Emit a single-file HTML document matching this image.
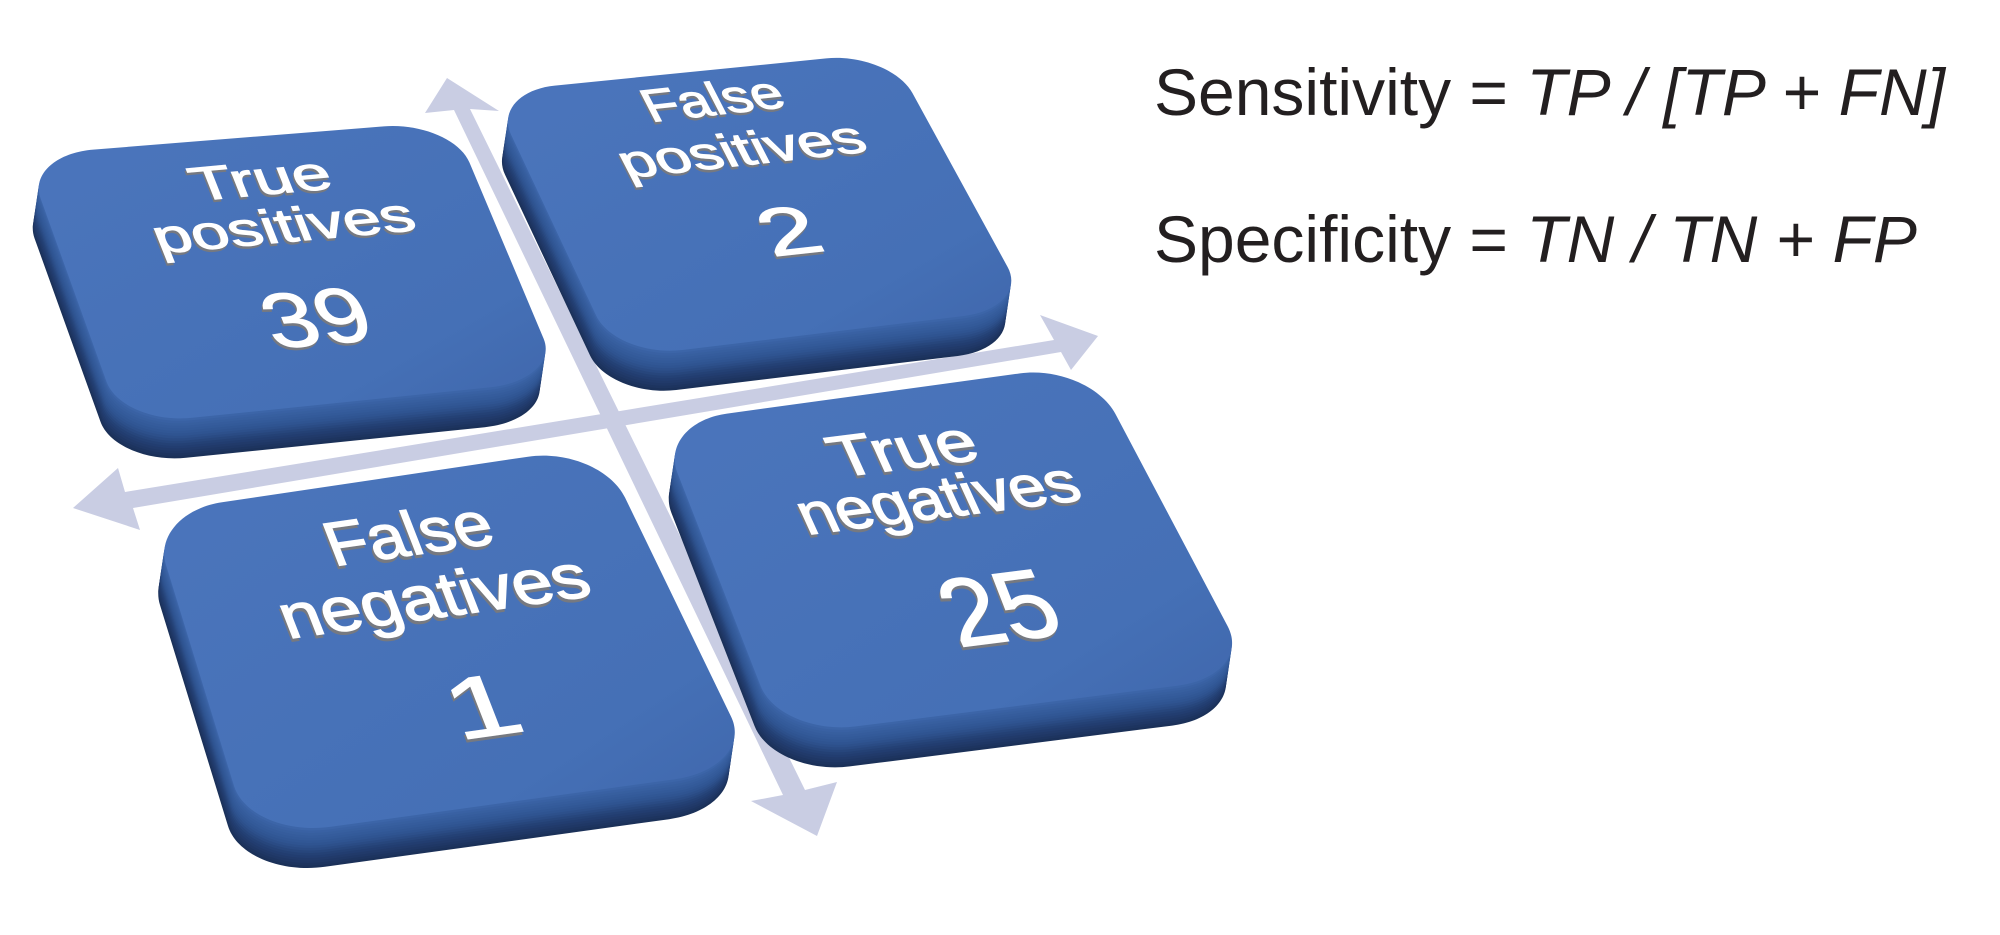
<!DOCTYPE html>
<html>
<head>
<meta charset="utf-8">
<style>
  html,body{margin:0;padding:0;background:#ffffff;}
  body{width:2000px;height:935px;overflow:hidden;position:relative;}
  svg{position:absolute;left:0;top:0;}
  .lbl{font-family:"Liberation Sans",Arial,sans-serif;text-anchor:middle;}
</style>
</head>
<body>
<svg width="2000" height="935" viewBox="0 0 2000 935" xmlns="http://www.w3.org/2000/svg">
  <defs>
    <g id="tiles">
      <path d="M93.3,149.6 L383.7,126.4 C421.4,123.4 459.8,139.6 469.4,162.4 L543.6,338.6 C553.2,361.4 529.5,383.2 490.8,387.2 L192.2,417.8 C153.5,421.8 115,405.6 106.5,381.8 L40.5,198.2 C32,174.4 55.6,152.6 93.3,149.6 Z"/>
      <path d="M554.8,85.6 L826.2,58.4 C861.4,54.9 900,70.4 912.4,93 L1007.6,267 C1020,289.6 1000.3,311.6 963.8,316 L682.2,350 C645.7,354.4 607,338.9 596,315.4 L511,134.6 C500,111.1 519.6,89.1 554.8,85.6 Z"/>
      <path d="M222,502.3 L528,456.7 C567.7,450.8 611.2,469.1 625,497.5 L731,716.5 C744.8,744.9 719.7,773 675,779.2 L331,826.8 C286.3,833 242.8,814.7 234,786 L166,565 C157.2,536.3 182.3,508.2 222,502.3 Z"/>
      <path d="M727,413.6 L1020,373.4 C1058.1,368.2 1100.8,386.4 1115.4,413.9 L1227.6,626.1 C1242.2,653.6 1220,680.3 1178.2,685.6 L855.8,726.4 C814,731.7 771.3,713.6 760.5,685.9 L677.5,473.1 C666.7,445.4 688.9,418.8 727,413.6 Z"/>
    </g>
    <linearGradient id="face" x1="0" y1="0" x2="1" y2="1">
      <stop offset="0" stop-color="#4b75bc"/>
      <stop offset="0.75" stop-color="#4570b6"/>
      <stop offset="1" stop-color="#3f66ab"/>
    </linearGradient>
  </defs>

  <!-- arrows (base plane) -->
  <g fill="#c9cde3">
    <polygon points="73,508 118,468 125,492 1054,340 1040,315 1098,336 1071,370 1061,352 133,508 140,530"/>
    <polygon points="447,78 499,111 470,109 805,790 837,782 817,836 751,801 783,795 454,110 425,113"/>
  </g>

  <!-- extrusion layers -->
  <use href="#tiles" transform="translate(-6 40)" fill="#1b3159"/>
  <use href="#tiles" transform="translate(-5.63 37.5)" fill="#1d345f"/>
  <use href="#tiles" transform="translate(-5.25 35)" fill="#1f3765"/>
  <use href="#tiles" transform="translate(-4.88 32.5)" fill="#213a6a"/>
  <use href="#tiles" transform="translate(-4.5 30)" fill="#223d70"/>
  <use href="#tiles" transform="translate(-4.13 27.5)" fill="#244175"/>
  <use href="#tiles" transform="translate(-3.75 25)" fill="#27467c"/>
  <use href="#tiles" transform="translate(-3.38 22.5)" fill="#2a4b84"/>
  <use href="#tiles" transform="translate(-3 20)" fill="#2d508b"/>
  <use href="#tiles" transform="translate(-2.63 17.5)" fill="#2f5491"/>
  <use href="#tiles" transform="translate(-2.25 15)" fill="#315795"/>
  <use href="#tiles" transform="translate(-1.88 12.5)" fill="#335a99"/>
  <use href="#tiles" transform="translate(-1.5 10)" fill="#355c9c"/>
  <use href="#tiles" transform="translate(-1.13 7.5)" fill="#375f9f"/>
  <use href="#tiles" transform="translate(-0.75 5)" fill="#3961a3"/>
  <use href="#tiles" transform="translate(-0.38 2.5)" fill="#3c65a8"/>

  <!-- top faces -->
  <use href="#tiles" fill="url(#face)"/>

  <!-- True positives -->
  <g transform="matrix(4.32 -0.395 1.04 2.615 21.5 157.75)">
    <g class="lbl" fill="#767980" stroke="#767980" stroke-width="0.4" transform="translate(-0.45 0.9)">
      <text x="51.5" y="21.8" font-size="17.7" textLength="32" lengthAdjust="spacingAndGlyphs">True</text>
      <text x="52.4" y="40" font-size="17.7" textLength="60" lengthAdjust="spacingAndGlyphs">positives</text>
      <text x="51.6" y="79" font-size="29" textLength="24" lengthAdjust="spacingAndGlyphs">39</text>
    </g>
    <g class="lbl" fill="#ffffff" stroke="#ffffff" stroke-width="0.4">
      <text x="51.5" y="21.8" font-size="17.7" textLength="32" lengthAdjust="spacingAndGlyphs">True</text>
      <text x="52.4" y="40" font-size="17.7" textLength="60" lengthAdjust="spacingAndGlyphs">positives</text>
      <text x="51.6" y="79" font-size="29" textLength="24" lengthAdjust="spacingAndGlyphs">39</text>
    </g>
  </g>

  <!-- False positives -->
  <g transform="matrix(4.045 -0.45 1.345 2.61 486.25 94.5)">
    <g class="lbl" fill="#767980" stroke="#767980" stroke-width="0.4" transform="translate(-0.45 0.9)">
      <text x="52.3" y="16.6" font-size="17" textLength="34" lengthAdjust="spacingAndGlyphs">False</text>
      <text x="53" y="36" font-size="17" textLength="60" lengthAdjust="spacingAndGlyphs">positives</text>
      <text x="54.3" y="70.3" font-size="25">2</text>
    </g>
    <g class="lbl" fill="#ffffff" stroke="#ffffff" stroke-width="0.4">
      <text x="52.3" y="16.6" font-size="17" textLength="34" lengthAdjust="spacingAndGlyphs">False</text>
      <text x="53" y="36" font-size="17" textLength="60" lengthAdjust="spacingAndGlyphs">positives</text>
      <text x="54.3" y="70.3" font-size="25">2</text>
    </g>
  </g>

  <!-- False negatives -->
  <g transform="matrix(4.825 -0.685 1.255 3.215 135.25 513.25)">
    <g class="lbl" fill="#767980" stroke="#767980" stroke-width="0.4" transform="translate(-0.45 0.9)">
      <text x="52" y="23.9" font-size="18.7" textLength="34" lengthAdjust="spacingAndGlyphs">False</text>
      <text x="52.2" y="43.4" font-size="18.7" textLength="63.5" lengthAdjust="spacingAndGlyphs">negatives</text>
      <text x="53.4" y="80.4" font-size="26">1</text>
    </g>
    <g class="lbl" fill="#ffffff" stroke="#ffffff" stroke-width="0.4">
      <text x="52" y="23.9" font-size="18.7" textLength="34" lengthAdjust="spacingAndGlyphs">False</text>
      <text x="52.2" y="43.4" font-size="18.7" textLength="63.5" lengthAdjust="spacingAndGlyphs">negatives</text>
      <text x="53.4" y="80.4" font-size="26">1</text>
    </g>
  </g>

  <!-- True negatives -->
  <g transform="matrix(4.555 -0.575 1.425 3.125 645.75 423.25)">
    <g class="lbl" fill="#767980" stroke="#767980" stroke-width="0.4" transform="translate(-0.45 0.9)">
      <text x="50.9" y="23.7" font-size="17.9" textLength="31.5" lengthAdjust="spacingAndGlyphs">True</text>
      <text x="53.5" y="39.9" font-size="17.9" textLength="61" lengthAdjust="spacingAndGlyphs">negatives</text>
      <text x="55.8" y="79.7" font-size="30" textLength="24" lengthAdjust="spacingAndGlyphs">25</text>
    </g>
    <g class="lbl" fill="#ffffff" stroke="#ffffff" stroke-width="0.4">
      <text x="50.9" y="23.7" font-size="17.9" textLength="31.5" lengthAdjust="spacingAndGlyphs">True</text>
      <text x="53.5" y="39.9" font-size="17.9" textLength="61" lengthAdjust="spacingAndGlyphs">negatives</text>
      <text x="55.8" y="79.7" font-size="30" textLength="24" lengthAdjust="spacingAndGlyphs">25</text>
    </g>
  </g>

  <!-- equations -->
  <text x="1154" y="115" font-family="'Liberation Sans', Arial, sans-serif" font-size="66" fill="#231f20">Sensitivity = <tspan font-style="italic">TP / [TP + FN]</tspan></text>
  <text x="1154" y="262" font-family="'Liberation Sans', Arial, sans-serif" font-size="66" fill="#231f20">Specificity = <tspan font-style="italic">TN / TN + FP</tspan></text>
</svg>
</body>
</html>
